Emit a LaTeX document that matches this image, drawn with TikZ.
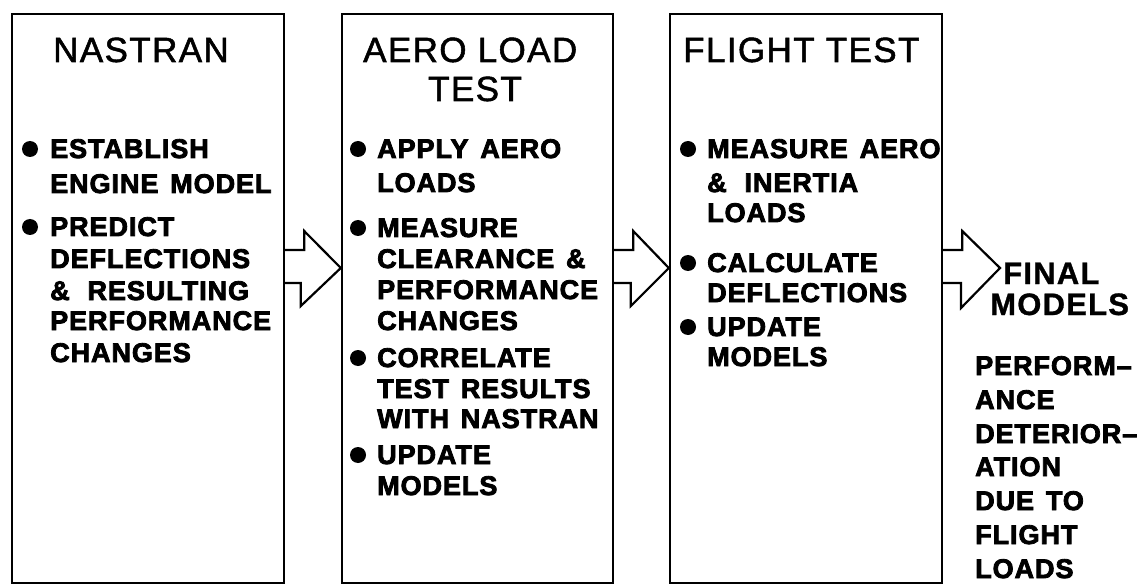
\documentclass[tikz,border=0pt]{standalone}
\usepackage{fontspec}
\setmainfont{Liberation Sans}
\newfontfamily\titlef{Liberation Sans}[LetterSpace=4, FakeBold=1.5]
\newfontfamily\bodyf{Liberation Sans Bold}[LetterSpace=3.5, FakeBold=3, WordSpace=1.4]
\newfontfamily\finf{Liberation Sans Bold}[LetterSpace=4, FakeBold=1]
\begin{document}
\begin{tikzpicture}[x=1pt,y=-1pt,
  box/.style={draw=black, line width=2.4pt, inner sep=0pt, minimum height=569pt},
  arrowline/.style={draw=black, line width=2.2pt, line join=miter},
  ttl/.style={anchor=base west, inner sep=0pt, font=\titlef\fontsize{35}{40}\selectfont},
  body/.style={anchor=base west, inner sep=0pt, font=\bodyf\fontsize{27}{31}\selectfont},
  fin/.style={anchor=base west, inner sep=0pt, font=\finf\fontsize{31}{36}\selectfont},
  dot/.style={circle, fill=black, minimum size=16pt, inner sep=0pt}]
\useasboundingbox (0,0) rectangle (1145,585);
\fill[white] (0,0) rectangle (1145,585);

% boxes
\node[box, minimum width=272pt] (b1) at (148,298.5) {};
\node[box, minimum width=271pt] (b2) at (477.5,298.5) {};
\node[box, minimum width=272pt] (b3) at (806,298.5) {};

% helper coordinates for arrow levels
\coordinate (ys) at (0,250);
\coordinate (yb) at (0,283);
\coordinate (yt) at (0,268);
\coordinate (fintip) at (1000,268);

% arrows
\draw[arrowline] (b1.east |- ys) -- ++(19,0) -- ++(0,-19) -- (b2.west |- yt) -- ++(-40,38) -- ++(0,-23) -- (b1.east |- yb);
\draw[arrowline] (b2.east |- ys) -- ++(19,0) -- ++(0,-19) -- (b3.west |- yt) -- ++(-38,38) -- ++(0,-23) -- (b2.east |- yb);
\draw[arrowline] (b3.east |- ys) -- ++(19,0) -- ++(0,-19) -- (fintip) -- ++(-39,40) -- ++(0,-25) -- (b3.east |- yb);

% titles
\node[ttl] (t1) at (53,62) {NASTRAN};
\node[ttl] (t2a) at (363,62) {AERO LOAD};
\node[ttl] (t2b) at (428,101) {TEST};
\node[ttl] (t3) at (683,62) {FLIGHT TEST};

% box 1
\node[dot] (d11) at (30,149) {};
\node[body] (l11) at (50,158) {ESTABLISH};
\node[body] (l12) at (50,193) {ENGINE MODEL};
\node[dot] (d12) at (30,227) {};
\node[body] (l13) at (50,236) {PREDICT};
\node[body] (l14) at (50,268) {DEFLECTIONS};
\node[body] (l15) at (50,300) {\&\hspace{6pt} RESULTING};
\node[body] (l16) at (50,330) {PERFORMANCE};
\node[body] (l17) at (50,362) {CHANGES};

% box 2
\node[dot] (d21) at (358,149) {};
\node[body] (l21) at (377,158) {APPLY AERO};
\node[body] (l22) at (377,192) {LOADS};
\node[dot] (d22) at (358,228) {};
\node[body] (l23) at (377,237) {MEASURE};
\node[body] (l24) at (377,268) {CLEARANCE \&};
\node[body] (l25) at (377,299) {PERFORMANCE};
\node[body] (l26) at (377,330) {CHANGES};
\node[dot] (d23) at (358,358) {};
\node[body] (l27) at (377,367) {CORRELATE};
\node[body] (l28) at (377,398) {TEST RESULTS};
\node[body] (l29) at (377,428) {WITH NASTRAN};
\node[dot] (d24) at (358,455) {};
\node[body] (l2a) at (377,464) {UPDATE};
\node[body] (l2b) at (377,495) {MODELS};

% box 3
\node[dot] (d31) at (688,149) {};
\node[body] (l31) at (707,158) {MEASURE AERO};
\node[body] (l32) at (707,192) {\&\hspace{6pt} INERTIA};
\node[body] (l33) at (707,222) {LOADS};
\node[dot] (d32) at (688,263) {};
\node[body] (l34) at (707,272) {CALCULATE};
\node[body] (l35) at (707,302) {DEFLECTIONS};
\node[dot] (d33) at (688,327) {};
\node[body] (l36) at (707,336) {UPDATE};
\node[body] (l37) at (707,366) {MODELS};

% final models
\node[fin] (f1) at (1003,284) {FINAL};
\node[fin] (f2) at (990,315) {MODELS};
\node[body] (r1) at (975,375) {PERFORM–};
\node[body] (r2) at (975,409) {ANCE};
\node[body] (r3) at (975,443) {DETERIOR–};
\node[body] (r4) at (975,476) {ATION};
\node[body] (r5) at (975,510) {DUE TO};
\node[body] (r6) at (975,544) {FLIGHT};
\node[body] (r7) at (975,578) {LOADS};
\end{tikzpicture}
\end{document}
